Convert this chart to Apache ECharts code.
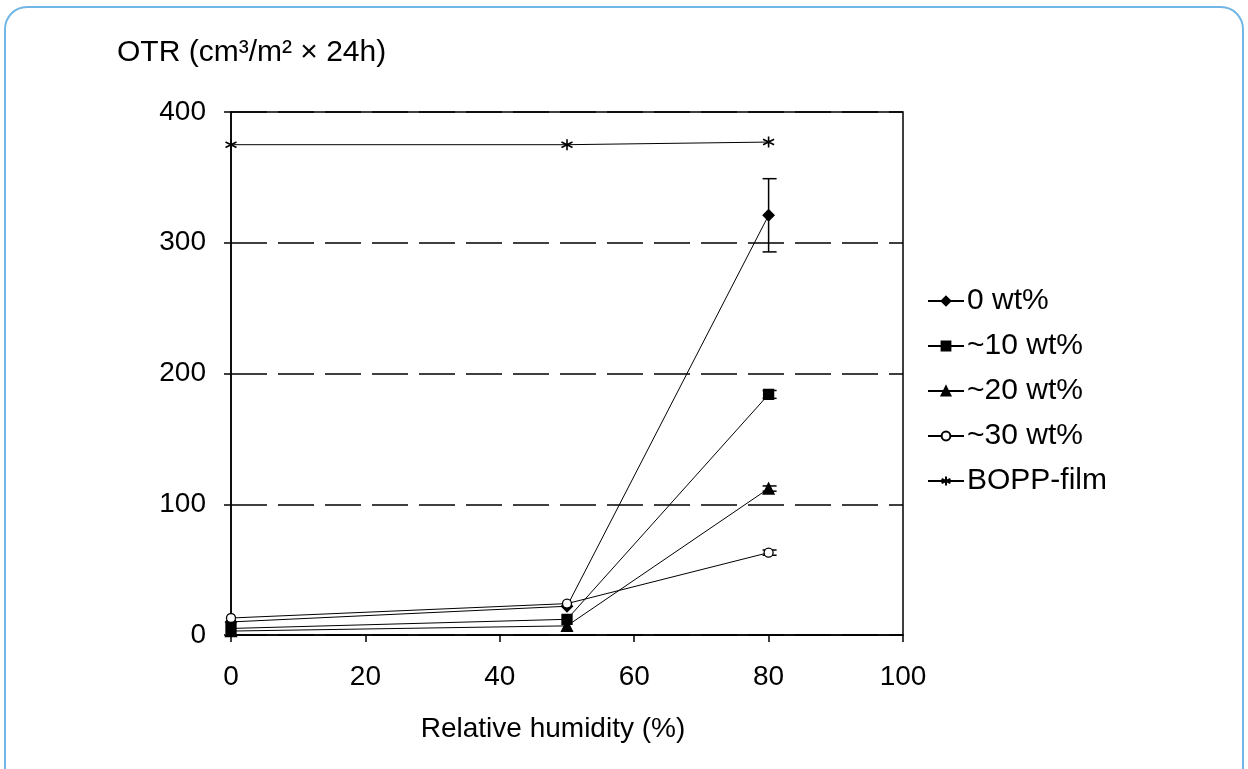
<!DOCTYPE html>
<html>
<head>
<meta charset="utf-8">
<script src="https://cdn.jsdelivr.net/npm/echarts@6/dist/echarts.min.js"></script>
<style>
html,body{margin:0;padding:0;background:#fff;}
#main{width:1248px;height:769px;}
</style>
</head>
<body>
<div id="main"></div>
<script>
// ---- data ----
const humidity = [0, 50, 80];
const seriesNames = ['0 wt%', '~10 wt%', '~20 wt%', '~30 wt%', 'BOPP-film'];
const otr0 = [10, 22, 321];
const otr10 = [5, 12, 184];
const otr20 = [3, 7, 112];
const otr30 = [13, 24, 63];
const otrBopp = [375, 375, 377];
const err0 = [0, 0, 28];
const err10 = [0, 0, 3];
const err20 = [0, 0, 2];
const err30 = [0, 0, 2];
const xTicks = [0, 20, 40, 60, 80, 100];
const yTicks = [0, 100, 200, 300, 400];

const FONT = 'Liberation Sans, Arial, sans-serif';
const chart = echarts.init(document.getElementById('main'));

const asterisk = 'path://M5,0 L5,10 M0.7,2.5 L9.3,7.5 M9.3,2.5 L0.7,7.5 M5,0 Z';

function pairs(vals) { return humidity.map((x, i) => [x, vals[i]]); }
function errData(vals, errs) {
  const out = [];
  humidity.forEach((x, i) => { if (errs[i] > 0) out.push([x, vals[i] - errs[i], vals[i] + errs[i]]); });
  return out;
}

const lineBase = {
  type: 'line', clip: false, showSymbol: true,
  lineStyle: { color: '#000', width: 1 },
  emphasis: { disabled: true }, animation: false
};

const markers = [
  { symbol: 'diamond', size: 11, fill: '#000' },
  { symbol: 'rect', size: 10, fill: '#000' },
  { symbol: 'triangle', size: 11, fill: '#000' },
  { symbol: 'circle', size: 9, fill: '#fff' },
  { symbol: asterisk, size: 11, fill: '#000' }
];
const values = [otr0, otr10, otr20, otr30, otrBopp];

const series = values.map((v, i) => Object.assign({}, lineBase, {
  name: seriesNames[i],
  data: pairs(v),
  symbol: markers[i].symbol,
  symbolSize: markers[i].size,
  itemStyle: { color: markers[i].fill, borderColor: '#000', borderWidth: i === 4 ? 1.6 : 1.3 },
  z: 3 + i
}));

const errSets = [[otr0, err0], [otr10, err10], [otr20, err20], [otr30, err30]];
errSets.forEach(([v, e]) => {
  series.push({
    type: 'custom', silent: true, animation: false, z: 2,
    data: errData(v, e),
    renderItem: function (params, api) {
      const x = api.value(0), lo = api.value(1), hi = api.value(2);
      const pLo = api.coord([x, lo]), pHi = api.coord([x, hi]);
      const w = 6;
      const st = { stroke: '#000', lineWidth: 1.5 };
      return { type: 'group', children: [
        { type: 'line', shape: { x1: pHi[0], y1: pHi[1], x2: pLo[0], y2: pLo[1] }, style: st },
        { type: 'line', shape: { x1: pHi[0] - w, y1: pHi[1], x2: pHi[0] + w + 2, y2: pHi[1] }, style: st },
        { type: 'line', shape: { x1: pLo[0] - w, y1: pLo[1], x2: pLo[0] + w + 2, y2: pLo[1] }, style: st }
      ]};
    }
  });
});

const option = {
  backgroundColor: '#fff',
  animation: false,
  textStyle: { fontFamily: FONT },
  graphic: [{
    type: 'rect', silent: true, z: 100,
    shape: { x: 5, y: 7, width: 1238, height: 820, r: 22 },
    style: { fill: 'none', stroke: '#70b6e6', lineWidth: 2 }
  }],
  title: {
    text: 'OTR (cm³/m² × 24h)',
    left: 112, top: 33,
    textStyle: { fontFamily: FONT, fontSize: 30, fontWeight: 'normal', color: '#000' }
  },
  legend: {
    orient: 'vertical', left: 922, top: 281,
    itemWidth: 36, itemHeight: 11, itemGap: 15,
    data: seriesNames,
    textStyle: { fontFamily: FONT, fontSize: 30, color: '#000', padding: [0, 0, 0, -2] },
    selectedMode: false
  },
  grid: {
    left: 231, top: 112, right: 345, bottom: 134,
    show: true, borderColor: '#000', borderWidth: 1.5, backgroundColor: 'transparent'
  },
  xAxis: {
    type: 'value', min: xTicks[0], max: xTicks[xTicks.length - 1], interval: 20,
    name: 'Relative humidity (%)', nameLocation: 'middle', nameGap: 80,
    nameTextStyle: { fontFamily: FONT, fontSize: 28, color: '#000', padding: [0, 28, 0, 0] },
    axisLine: { show: true, lineStyle: { color: '#000', width: 1.5 } },
    axisTick: { show: true, inside: false, length: 7, lineStyle: { color: '#000', width: 1.5 } },
    axisLabel: { color: '#000', fontFamily: FONT, fontSize: 28, margin: 28 },
    splitLine: { show: false }
  },
  yAxis: {
    type: 'value', min: yTicks[0], max: yTicks[yTicks.length - 1], interval: 100,
    axisLine: { show: true, lineStyle: { color: '#000', width: 1.5 } },
    axisTick: { show: true, inside: false, length: 7, lineStyle: { color: '#000', width: 1.5 } },
    axisLabel: { color: '#000', fontFamily: FONT, fontSize: 28, margin: 25 },
    splitLine: { show: true, lineStyle: { color: '#000', width: 1.5, type: [36, 11] } }
  },
  series: series
};
chart.setOption(option);
</script>
</body>
</html>
